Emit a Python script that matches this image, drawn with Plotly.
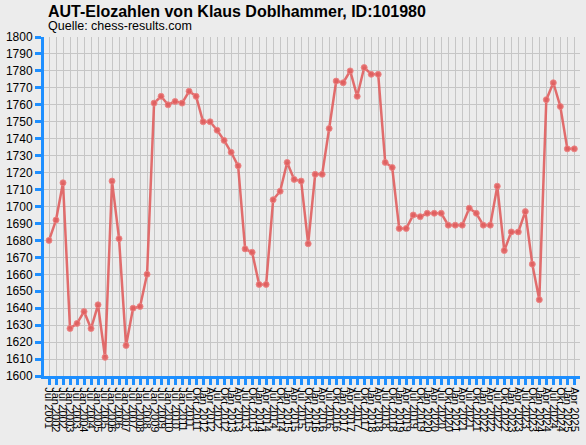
import plotly.graph_objects as go

# Rating list dates (semiannual until mid 2011, then quarterly)
dates = [
    "Jul 2001", "Jan 2002", "Jul 2002", "Jan 2003", "Jul 2003", "Jan 2004", "Jul 2004",
    "Jan 2005", "Jul 2005", "Jan 2006", "Jul 2006", "Jan 2007", "Jul 2007", "Jan 2008",
    "Jul 2008", "Jan 2009", "Jul 2009", "Jan 2010", "Jul 2010", "Jan 2011", "Jul 2011",
    "Okt 2011",
    "Jan 2012", "Apr 2012", "Jul 2012", "Okt 2012",
    "Jan 2013", "Apr 2013", "Jul 2013", "Okt 2013",
    "Jan 2014", "Apr 2014", "Jul 2014", "Okt 2014",
    "Jan 2015", "Apr 2015", "Jul 2015", "Okt 2015",
    "Jan 2016", "Apr 2016", "Jul 2016", "Okt 2016",
    "Jan 2017", "Apr 2017", "Jul 2017", "Okt 2017",
    "Jan 2018", "Apr 2018", "Jul 2018", "Okt 2018",
    "Jan 2019", "Apr 2019", "Jul 2019", "Okt 2019",
    "Jan 2020", "Apr 2020", "Jul 2020", "Okt 2020",
    "Jan 2021", "Apr 2021", "Jul 2021", "Okt 2021",
    "Jan 2022", "Apr 2022", "Jul 2022", "Okt 2022",
    "Jan 2023", "Apr 2023", "Jul 2023", "Okt 2023",
    "Jan 2024", "Apr 2024", "Jul 2024", "Okt 2024",
    "Jan 2025", "Apr 2025",
]

# Elo values
elo = [
    1680, 1692, 1714, 1628, 1631, 1638, 1628, 1642, 1611, 1715, 1681, 1618, 1640, 1641, 1660,
    1761, 1765, 1760, 1762, 1761, 1768, 1765, 1750, 1750, 1745, 1739, 1732, 1724, 1675, 1673,
    1654, 1654, 1704, 1709, 1726,
    1716, 1715, 1678, 1719, 1719, 1746, 1774, 1773, 1780, 1765, 1782, 1778, 1778, 1726, 1723,
    1687, 1687, 1695, 1694, 1696, 1696,
    1696, 1689, 1689, 1689, 1699, 1696, 1689, 1689, 1712, 1674, 1685, 1685, 1697, 1666, 1645,
    1763, 1773, 1759, 1734, 1734,
]

y_ticks = list(range(1600, 1801, 10))

idx = list(range(len(dates)))
blue = "#1e8fff"
bg = "#ececec"
plot_w = 586 - 44 - 6
plot_h = 445 - 37 - 69

fig = go.Figure()
fig.add_trace(go.Scatter(
    x=idx,
    y=elo,
    mode="lines+markers",
    line=dict(color="rgba(224,94,94,0.9)", width=2.5),
    marker=dict(size=6, color="rgba(224,94,94,0.9)",
                line=dict(color="rgba(236,132,132,0.9)", width=1)),
    hoverinfo="skip",
))

fig.update_layout(
    width=586,
    height=445,
    margin=dict(l=44, r=6, t=37, b=69, autoexpand=False),
    paper_bgcolor=bg,
    plot_bgcolor=bg,
    showlegend=False,
    font=dict(family="Liberation Sans, Arial, sans-serif", color="black"),
    annotations=[
        dict(
            text="<b>AUT-Elozahlen von Klaus Doblhammer, ID:101980</b>",
            xref="paper", yref="paper",
            x=(46 - 44) / plot_w, y=1 + 15 / plot_h,
            xanchor="left", yanchor="bottom",
            showarrow=False,
            font=dict(size=16, color="black"),
        ),
        dict(
            text="Quelle: chess-results.com",
            xref="paper", yref="paper",
            x=(46 - 44) / plot_w, y=1 + 2 / plot_h,
            xanchor="left", yanchor="bottom",
            showarrow=False,
            font=dict(size=12.5, color="black"),
        ),
    ],
)

fig.update_xaxes(
    automargin=False,
    tickmode="array",
    tickvals=idx,
    ticktext=dates,
    tickangle=90,
    tickfont=dict(size=11),
    range=[-0.714, 75.81],
    showgrid=True,
    gridcolor="#c6c6c6",
    gridwidth=1,
    zeroline=False,
    showline=True,
    linecolor=blue,
    linewidth=3,
    ticks="outside",
    ticklen=6,
    tickwidth=3,
    tickcolor=blue,
)

fig.update_yaxes(
    automargin=False,
    tickmode="array",
    tickvals=y_ticks,
    ticktext=[str(v) for v in y_ticks],
    tickfont=dict(size=12),
    range=[1600, 1800],
    showgrid=True,
    gridcolor="#c6c6c6",
    gridwidth=1,
    zeroline=False,
    showline=True,
    linecolor=blue,
    linewidth=3,
    ticks="outside",
    ticklen=6,
    tickwidth=3,
    tickcolor=blue,
)

# Drop the default page margin so the figure fills the window exactly
fig.write_html(
    "out.html",
    config={"displayModeBar": False},
    post_script="document.body.style.margin = '0';",
)
